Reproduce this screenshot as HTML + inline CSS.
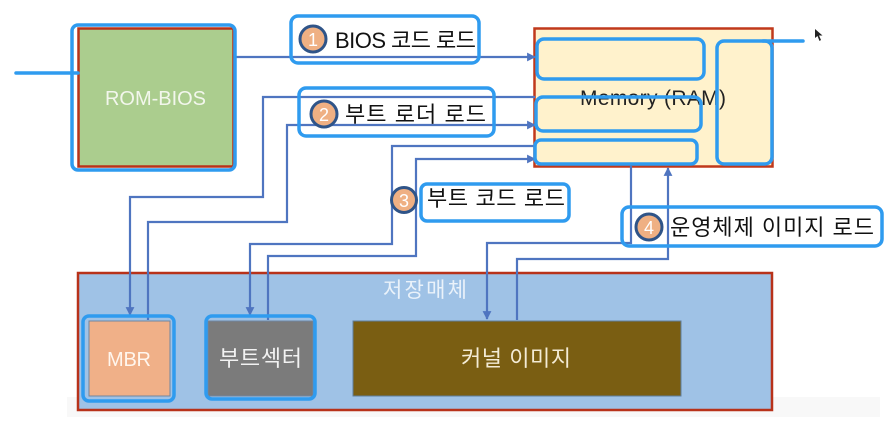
<!DOCTYPE html>
<html>
<head>
<meta charset="utf-8">
<style>
html,body{margin:0;padding:0;background:#fff}
svg{display:block;filter:blur(0.35px)}
text{font-family:"Liberation Sans","Noto Sans CJK KR",sans-serif}
</style>
</head>
<body>
<svg width="892" height="430" viewBox="0 0 892 430" xmlns="http://www.w3.org/2000/svg">
<defs>
<marker id="a" markerWidth="4" markerHeight="4" refX="3.6" refY="2" orient="auto" markerUnits="strokeWidth"><path d="M0 0L4 2L0 4Z" fill="#4F75C0"/></marker>
</defs>
<rect x="67" y="397" width="813" height="20" fill="#F8F8F8"/>
<rect x="78.5" y="28.5" width="155" height="138" fill="#ABCD8E" stroke="#B8321A" stroke-width="2.5"/>
<rect x="534.5" y="28.5" width="238" height="138" fill="#FFF2CC" stroke="#C0391B" stroke-width="2.5"/>
<rect x="78" y="273" width="694" height="137" fill="#9FC2E6" stroke="#B8321A" stroke-width="2.5"/>
<rect x="89" y="321" width="81" height="75" fill="#F0B088" stroke="#6F86A0"/>
<rect x="208" y="321" width="105" height="75" fill="#7B7B7B" stroke="#6F86A0"/>
<rect x="353" y="321" width="328" height="75" fill="#7A5E12" stroke="#5F7D9C"/>

<text x="105" y="105" font-size="20" fill="#F2F6EC" textLength="101">ROM-BIOS</text>
<text x="580" y="105" font-size="21" fill="#222" textLength="146">Memory (RAM)</text>
<text x="383" y="297" font-size="21" fill="#EAF2FA" textLength="84">저장매체</text>
<text x="107" y="366" font-size="20" fill="#FFF6EE" textLength="44">MBR</text>
<text x="219" y="366" font-size="22" fill="#F2F2F2" textLength="83">부트섹터</text>
<text x="461" y="366" font-size="22" fill="#F3EBD5" textLength="110">커널 이미지</text>

<g fill="none" stroke="#4F75C0" stroke-width="2.2">
<path d="M235 57H535" marker-end="url(#a)"/>
<path d="M535 97H263V197H130V315" marker-end="url(#a)"/>
<path d="M148 320V222H287V125H535" marker-end="url(#a)"/>
<path d="M535 146H392V244H250V315" marker-end="url(#a)"/>
<path d="M268 320V256H416V159H535" marker-end="url(#a)"/>
<path d="M631 166V243H487V319" marker-end="url(#a)"/>
<path d="M517 320V259H668V168" marker-end="url(#a)"/>
</g>

<g fill="none" stroke="#2F9BEF" stroke-width="3.5">
<rect x="72" y="25" width="163" height="145" rx="6"/>
<rect x="291" y="16" width="188" height="47" rx="7"/>
<rect x="299" y="88" width="195" height="48" rx="7"/>
<rect x="421" y="184" width="148" height="37" rx="6"/>
<rect x="622" y="207" width="260" height="39" rx="7"/>
<rect x="537" y="39" width="167" height="40" rx="7"/>
<rect x="536" y="97" width="165" height="34" rx="7"/>
<rect x="535" y="140" width="162" height="24" rx="6"/>
<rect x="717" y="41" width="55" height="123" rx="7"/>
<rect x="83" y="316" width="91" height="85" rx="6"/>
<rect x="206" y="316" width="109" height="83" rx="6"/>
</g>
<path d="M16 73H78M763 41H803" fill="none" stroke="#2F9BEF" stroke-width="3.500" stroke-linecap="round"/>

<g fill="#EFB083" stroke="#2F5488" stroke-width="3">
<circle cx="313" cy="39" r="13"/>
<circle cx="324" cy="114" r="13"/>
<circle cx="404" cy="200" r="12.5"/>
<circle cx="649" cy="227" r="13"/>
</g>
<g font-size="18" fill="#fff" text-anchor="middle">
<text x="313" y="46">1</text>
<text x="324" y="121">2</text>
<text x="404" y="207">3</text>
<text x="649" y="234">4</text>
</g>
<g font-size="22" fill="#111">
<text x="335" y="48" textLength="141">BIOS 코드 로드</text>
<text x="345" y="122" textLength="141">부트 로더 로드</text>
<text x="427" y="206" textLength="138">부트 코드 로드</text>
<text x="670" y="235" textLength="204">운영체제 이미지 로드</text>
</g>
<path d="M815 29L815 38L817.5 36L819.5 41L821 40L819 35.500L822.500 35.500Z" fill="#222"/>
</svg>
</body>
</html>
